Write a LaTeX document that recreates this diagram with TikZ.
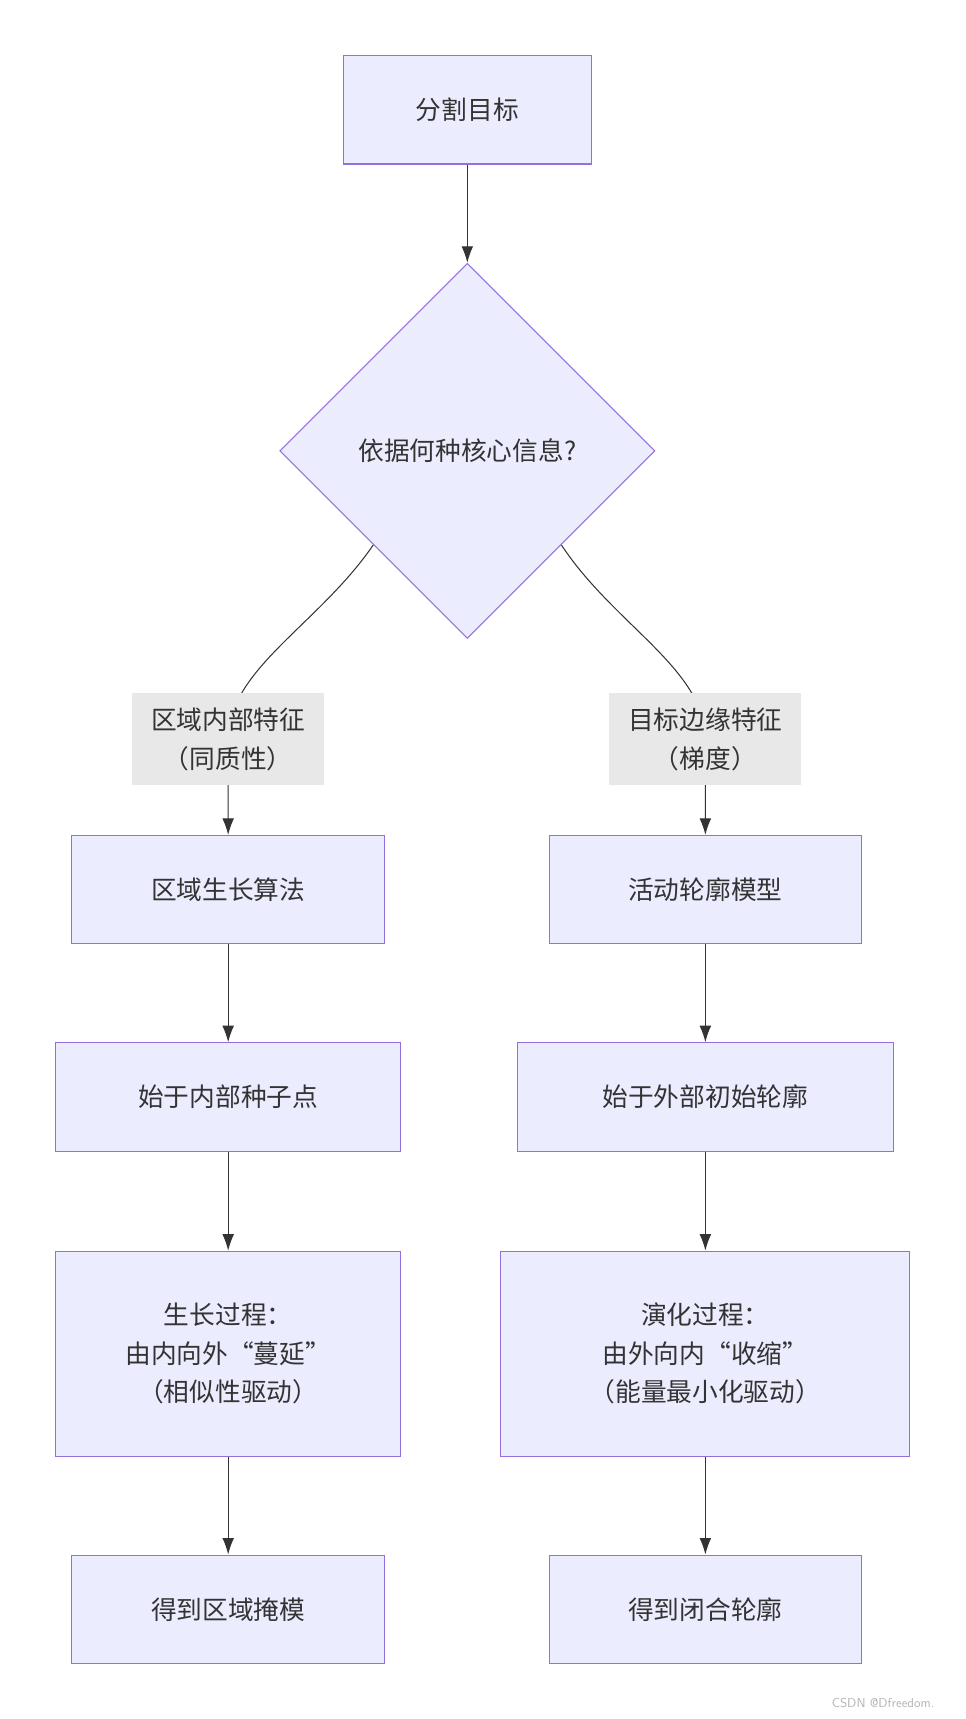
\documentclass[tikz,border=0pt]{standalone}
\usepackage{fontspec}
\setmainfont{Noto Sans CJK SC}
\usetikzlibrary{positioning,shapes.geometric,arrows.meta,backgrounds}
\definecolor{boxfill}{HTML}{ECECFF}
\definecolor{boxline}{HTML}{9370DB}
\definecolor{lablfill}{HTML}{E8E8E8}
\definecolor{edgeline}{HTML}{333333}
\begin{document}
\begin{tikzpicture}[x=0.03cm, y=-0.03cm,
    stepnode/.style={rectangle, draw=boxline, fill=boxfill, thick, minimum height=2.97cm, align=center, font=\fontsize{20}{30}\selectfont, text=black!80},
    choicenode/.style={diamond, draw=boxline, fill=boxfill, thick, minimum width=10.26cm, minimum height=10.26cm, inner sep=0pt, font=\fontsize{20}{30}\selectfont, text=black!80},
    labelnode/.style={rectangle, fill=lablfill, inner sep=0pt, minimum width=5.25cm, minimum height=2.52cm, align=center, font=\fontsize{20}{30}\selectfont, text=black!80},
    flow/.style={draw=edgeline, thick, -{Latex[length=4.5mm, width=3.2mm]}}]
    \useasboundingbox (0,0) rectangle (880,1567);

    \node[stepnode, minimum width=6.78cm] (goal) at (426,100) {分割目标};
    \node[choicenode] (basis) at (426,411) {依据何种核心信息?};

    \node[labelnode] (inner) at (208,674) {区域内部特征\\（同质性）};
    \node[labelnode] (edge) at (643,674) {目标边缘特征\\（梯度）};

    \node[stepnode, minimum width=8.55cm] (grow) at (208,811) {区域生长算法};
    \node[stepnode, minimum width=9.45cm] (seed) at (208,1000) {始于内部种子点};
    \node[stepnode, minimum width=9.45cm, minimum height=5.61cm] (spread) at (208,1234) {生长过程：\\由内向外“蔓延”\\（相似性驱动）};
    \node[stepnode, minimum width=8.55cm] (mask) at (208,1467) {得到区域掩模};

    \node[stepnode, minimum width=8.55cm] (snake) at (643,811) {活动轮廓模型};
    \node[stepnode, minimum width=10.29cm] (init) at (643,1000) {始于外部初始轮廓};
    \node[stepnode, minimum width=11.19cm, minimum height=5.61cm] (shrink) at (643,1234) {演化过程：\\由外向内“收缩”\\（能量最小化驱动）};
    \node[stepnode, minimum width=8.55cm] (contour) at (643,1467) {得到闭合轮廓};

    \node[font=\fontsize{10}{12}\selectfont\sffamily, text=black!30] (mark) at (805,1552) {CSDN @Dfreedom.};

    \begin{scope}[on background layer]
        \draw[flow] (goal) -- (basis);
        \draw[flow] (basis.south west) .. controls (290,570) and (208,610) .. (inner.center) -- (grow.north);
        \draw[flow] (basis.south east) .. controls (560,570) and (643,610) .. (edge.center) -- (snake.north);
    \end{scope}
    \draw[flow] (grow) -- (seed);
    \draw[flow] (seed) -- (spread);
    \draw[flow] (spread) -- (mask);
    \draw[flow] (snake) -- (init);
    \draw[flow] (init) -- (shrink);
    \draw[flow] (shrink) -- (contour);

\end{tikzpicture}
\end{document}
